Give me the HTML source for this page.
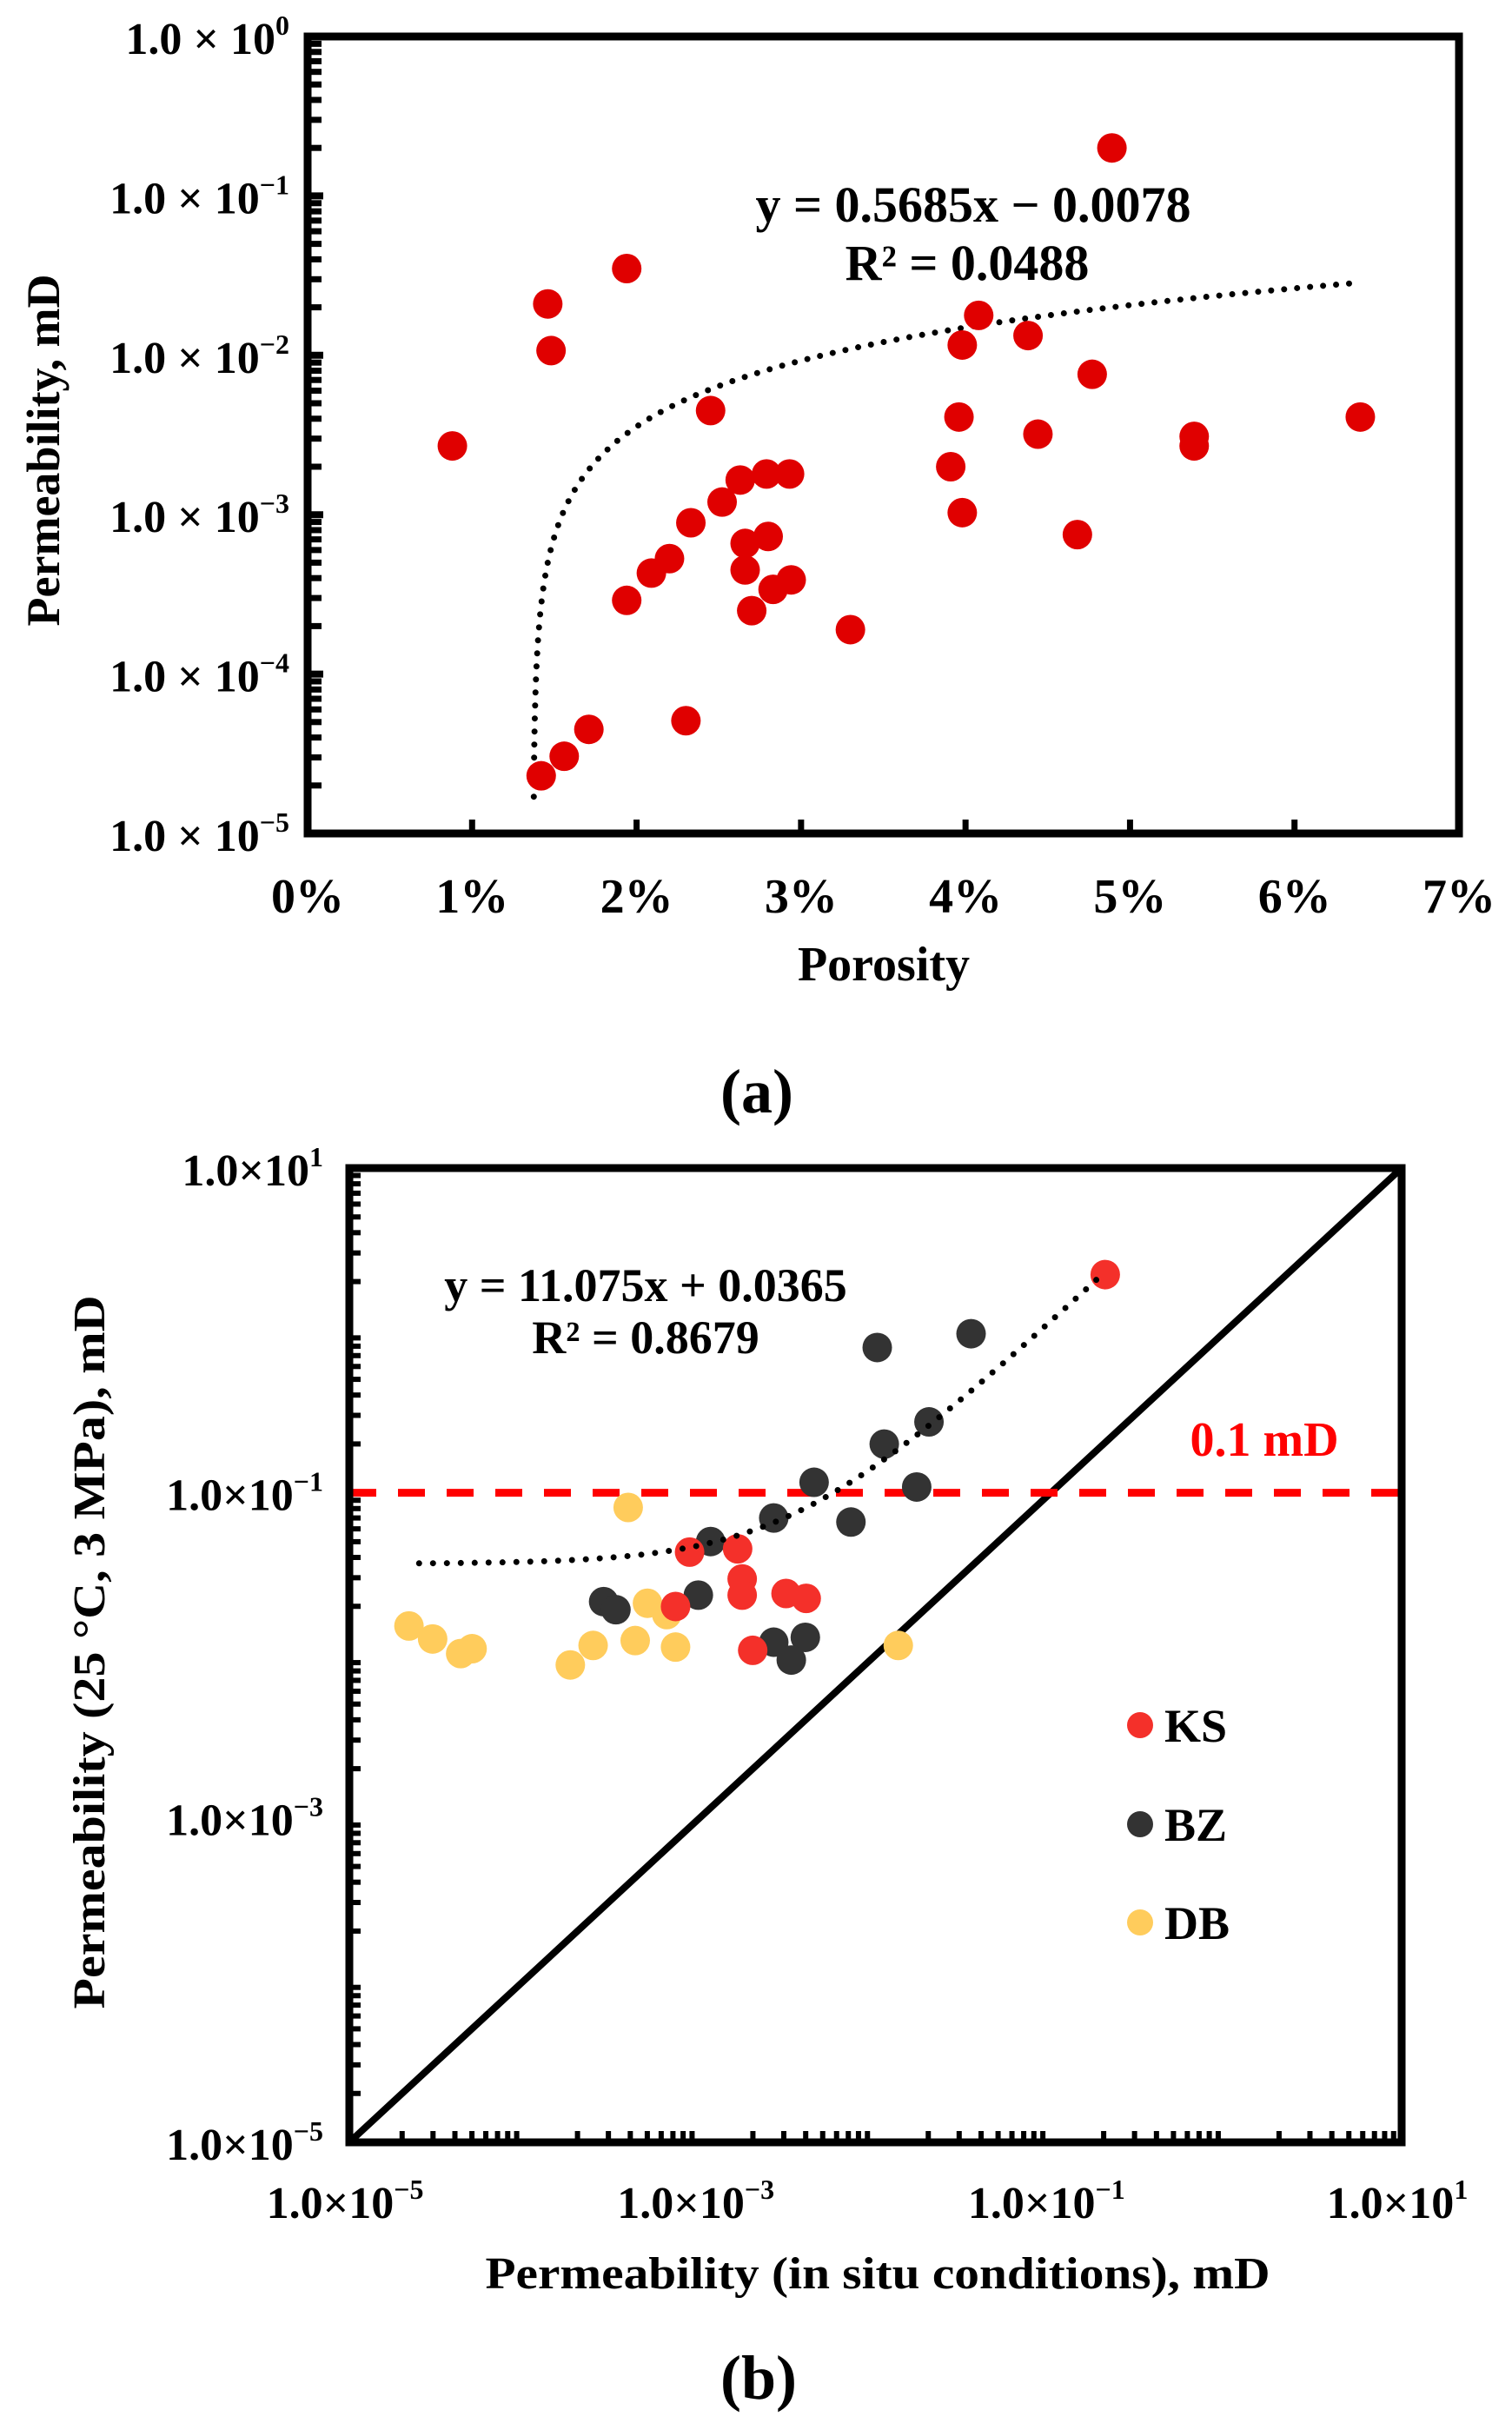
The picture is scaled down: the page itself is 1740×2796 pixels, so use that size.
<!DOCTYPE html>
<html><head><meta charset="utf-8"><style>
html,body{margin:0;padding:0;background:#fff}
svg{display:block}
text{font-family:"Liberation Serif",serif;font-weight:bold;fill:#000}
</style></head><body>
<svg id="fig" width="1740" height="2796" viewBox="0 0 1740 2796" xmlns="http://www.w3.org/2000/svg">
<g id="chartA"></g>
<g id="chartB"></g>
</svg>
<script>
// ---------- Chart (a) data ----------
const porosityPct = [4.89,0.88,1.46,1.48,1.94,2.45,4.08,3.98,4.38,4.77,3.96,4.44,5.39,5.39,6.40,3.91,3.98,4.68,2.63,2.79,2.93,2.52,2.33,2.66,2.80,2.20,2.09,2.66,2.83,2.94,1.94,2.70,3.30,2.30,1.71,1.56,1.42];
const permA = [0.20,0.0027,0.021,0.0107,0.035,0.0045,0.0178,0.0116,0.0133,0.0076,0.0041,0.0032,0.0031,0.0027,0.0041,0.0020,0.00103,0.00075,0.00165,0.0018,0.0018,0.0012,0.00089,0.00066,0.00073,0.00053,0.00043,0.00045,0.00034,0.00039,0.00029,0.00025,0.00019,5.1e-5,4.5e-5,3.05e-5,2.3e-5];
const xTicksA = ["0%","1%","2%","3%","4%","5%","6%","7%"];
const yExpA = ["0","−1","−2","−3","−4","−5"];
const trendA = {slope:0.5685, intercept:-0.0078, xStart:1.375, xEnd:6.4};

// ---------- Chart (b) data (log10 values) ----------
const ksLogX = [-0.69,-3.06,-2.786,-2.76,-2.76,-2.51,-2.395,-3.14,-2.70];
const ksLogY = [0.344,-1.365,-1.345,-1.53,-1.63,-1.62,-1.65,-1.70,-1.97];
const bzLogX = [-1.99,-1.455,-1.695,-1.95,-2.35,-1.765,-2.58,-2.14,-2.94,-3.01,-3.55,-3.48,-2.40,-2.58,-2.48];
const bzLogY = [-0.105,-0.02,-0.563,-0.70,-0.935,-0.964,-1.155,-1.18,-1.30,-1.63,-1.67,-1.72,-1.89,-1.92,-2.03];
const dbLogX = [-3.41,-3.30,-3.19,-4.66,-4.525,-4.365,-4.30,-3.61,-3.37,-3.14,-3.74,-1.87];
const dbLogY = [-1.09,-1.68,-1.75,-1.82,-1.90,-1.99,-1.96,-1.94,-1.91,-1.95,-2.06,-1.94];
const xExpB = ["−5","−3","−1","1"];
const yExpB = ["1","−1","−3","−5"];
const trendB = {slope:11.075, intercept:0.0365, xStart:2.5e-5, xEnd:0.2};
const thresholdB = 0.1;

const NS="http://www.w3.org/2000/svg";
function mk(parent, tag, attrs){const e=document.createElementNS(NS,tag);for(const k in attrs)e.setAttribute(k,attrs[k]);parent.appendChild(e);return e;}

// ================= Chart A =================
const A = document.getElementById('chartA');
const aL=354,aR=1679,aT=42,aB=959;
const axA = p => aL + (aR-aL)*p/7;
const ayA = v => aB - (aB-aT)*(Math.log10(v)+5)/5;

for(let d=-5; d<0; d++){
  for(let m=2;m<=9;m++){
    const y=ayA(m*Math.pow(10,d));
    const t=mk(A,'line',{x1:aL,y1:y,x2:aL+16,y2:y,stroke:'#000','stroke-width':7});
    
    
  }
}
for(let i=0;i<=5;i++){
  const y=ayA(Math.pow(10,-i));
  const t=mk(A,'line',{x1:aL,y1:y,x2:aL+18,y2:y,stroke:'#000','stroke-width':8});
  
  
  const tx=mk(A,'text',{x:333,y:y+20,'text-anchor':'end','font-size':52});
  
  
  tx.textContent='1.0 × 10';
  const sp=mk(tx,'tspan',{dy:-22,'font-size':32});
  sp.textContent=yExpA[i];
}
xTicksA.forEach((lab,i)=>{
  const x=axA(i);
  if(i>0&&i<7){const t=mk(A,'line',{x1:x,y1:aB,x2:x,y2:aB-16,stroke:'#000','stroke-width':7});
  
  }
  const tx=mk(A,'text',{x:x,y:1050,'text-anchor':'middle','font-size':56});
  
  
  tx.textContent=lab;
});
const frA=mk(A,'rect',{x:aL,y:aT,width:aR-aL,height:aB-aT,fill:'none',stroke:'#000','stroke-width':9});



let dA='';
for(let i=0;i<=300;i++){
  const p=trendA.xStart+(trendA.xEnd-trendA.xStart)*Math.pow(i/300,2);
  const v=trendA.slope*p/100+trendA.intercept;
  if(v<=1e-5*1.6) { if(i>0) continue; }
  dA+=(dA?'L':'M')+axA(p).toFixed(1)+' '+ayA(Math.max(v,1.7e-5)).toFixed(1);
}
const trA=mk(A,'path',{d:dA,fill:'none',stroke:'#000','stroke-width':7,'stroke-linecap':'round','stroke-dasharray':'0 15'});



porosityPct.forEach((p,i)=>{
  const c=mk(A,'circle',{cx:axA(p),cy:ayA(permA[i]),r:17,fill:'#e00000'});
  
  
});

const e1=mk(A,'text',{x:1120,y:255,'text-anchor':'middle','font-size':58});


e1.textContent='y = 0.5685x − 0.0078';
const e2=mk(A,'text',{x:1113,y:322,'text-anchor':'middle','font-size':58});


e2.textContent='R² = 0.0488';

const xtA=mk(A,'text',{x:1017,y:1128,'text-anchor':'middle','font-size':56});


xtA.textContent='Porosity';
const ytA=mk(A,'text',{x:0,y:0,'text-anchor':'middle','font-size':54,transform:'translate(68,518) rotate(-90)'});


ytA.textContent='Permeability, mD';
const capA=mk(A,'text',{x:871,y:1280,'text-anchor':'middle','font-size':72,'font-weight':'normal'});


capA.innerHTML='(<tspan font-weight="bold">a</tspan>)';

// ================= Chart B =================
const B = document.getElementById('chartB');
const bL=402,bR=1613,bT=1344,bB=2465;
const bx = lg => bL + (bR-bL)*(lg+5)/6;
const by = lg => bB - (bB-bT)*(lg+5)/6;

for(let d=-5; d<1; d++){
  for(let m=2;m<=9;m++){
    const lg=d+Math.log10(m);
    const ty=mk(B,'line',{x1:bL,y1:by(lg),x2:bL+13,y2:by(lg),stroke:'#000','stroke-width':6});
    
    
    const tx=mk(B,'line',{x1:bx(lg),y1:bB,x2:bx(lg),y2:bB-13,stroke:'#000','stroke-width':6});
    
    
  }
}
yExpB.forEach(ex=>{
  const lg=parseInt(ex.replace('−','-'));
  const tx=mk(B,'text',{x:372,y:by(lg)+20,'text-anchor':'end','font-size':52});
  
  
  tx.textContent='1.0×10';
  const sp=mk(tx,'tspan',{dy:-22,'font-size':32});sp.textContent=ex;
});
xExpB.forEach(ex=>{
  const lg=parseInt(ex.replace('−','-'));
  const tx=mk(B,'text',{x:bx(lg)-5,y:2552,'text-anchor':'middle','font-size':52});
  
  
  tx.textContent='1.0×10';
  const sp=mk(tx,'tspan',{dy:-22,'font-size':32});sp.textContent=ex;
});

const diag=mk(B,'line',{x1:bx(-5),y1:by(-5),x2:bx(1),y2:by(1),stroke:'#000','stroke-width':8});



const thr=mk(B,'line',{x1:bL,y1:by(Math.log10(thresholdB)),x2:bR,y2:by(Math.log10(thresholdB)),stroke:'#ff0000','stroke-width':9,'stroke-dasharray':'31 25'});



const frB=mk(B,'rect',{x:bL,y:bT,width:bR-bL,height:bB-bT,fill:'none',stroke:'#000','stroke-width':9});



function pts(xs,ys,col,name){
  xs.forEach((lx,i)=>{
    const c=mk(B,'circle',{cx:bx(lx),cy:by(ys[i]),r:17,fill:col});
    
    
  });
}
pts(dbLogX,dbLogY,'#ffcc5c','db-point');
pts(bzLogX,bzLogY,'#333333','bz-point');
pts(ksLogX,ksLogY,'#f4302a','ks-point');

let dB='';
for(let i=0;i<=200;i++){
  const lg=Math.log10(trendB.xStart)+(Math.log10(trendB.xEnd)-Math.log10(trendB.xStart))*i/200;
  const v=trendB.slope*Math.pow(10,lg)+trendB.intercept;
  dB+=(i?'L':'M')+bx(lg).toFixed(1)+' '+by(Math.log10(v)).toFixed(1);
}
const trB=mk(B,'path',{d:dB,fill:'none',stroke:'#000','stroke-width':7,'stroke-linecap':'round','stroke-dasharray':'0 16'});



const b1=mk(B,'text',{x:743,y:1497,'text-anchor':'middle','font-size':54});


b1.textContent='y = 11.075x + 0.0365';
const b2=mk(B,'text',{x:743,y:1557,'text-anchor':'middle','font-size':54});


b2.textContent='R² = 0.8679';
const thl=mk(B,'text',{x:1455,y:1675,'text-anchor':'middle','font-size':56,style:'fill:#ff0000'});


thl.textContent='0.1 mD';

const legNames=["KS","BZ","DB"];
const legCols=['#f4302a','#333333','#ffcc5c'];
const legY=[1985,2099,2212];
legNames.forEach((n,i)=>{
  const g=mk(B,'g',{});
  
  
  mk(g,'circle',{cx:1312,cy:legY[i],r:15,fill:legCols[i]});
  const t=mk(g,'text',{x:1340,y:legY[i]+19,'font-size':54});t.textContent=n;
});

const xtB=mk(B,'text',{x:1010,y:2633,'text-anchor':'middle','font-size':52,textLength:903,lengthAdjust:'spacingAndGlyphs'});


xtB.textContent='Permeability (in situ conditions), mD';
const ytB=mk(B,'text',{x:0,y:0,'text-anchor':'middle','font-size':52,transform:'translate(120,1901) rotate(-90)',textLength:821,lengthAdjust:'spacingAndGlyphs'});


ytB.textContent='Permeability (25 °C, 3 MPa), mD';
const capB=mk(B,'text',{x:873,y:2760,'text-anchor':'middle','font-size':72,'font-weight':'normal'});


capB.innerHTML='(<tspan font-weight="bold">b</tspan>)';
</script>
</body></html>
